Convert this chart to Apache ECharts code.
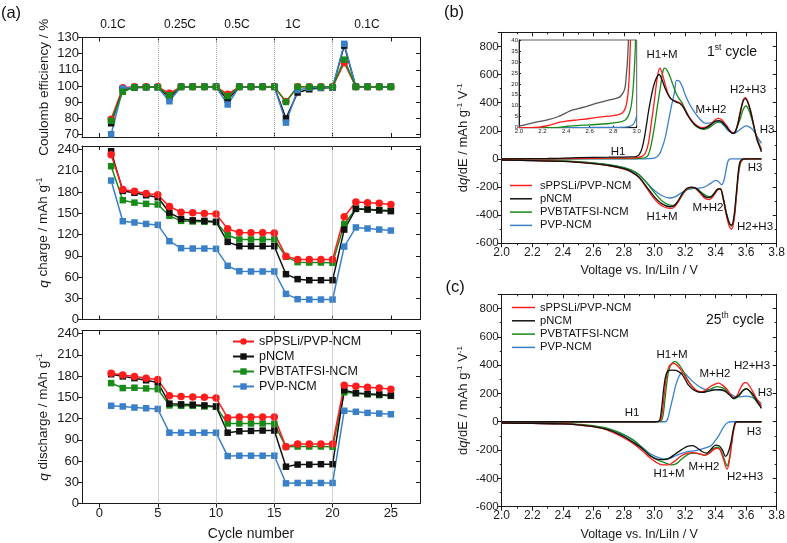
<!DOCTYPE html>
<html><head><meta charset="utf-8">
<script src="https://cdn.jsdelivr.net/npm/echarts@6/dist/echarts.min.js"></script>
<style>html,body{margin:0;padding:0;background:#fff}#c{width:787px;height:543px}</style>
</head><body><div id="c"></div>
<script>
// ---------------- DATA ----------------
const materials = ['sPPSLi/PVP-NCM', 'pNCM', 'PVBTATFSI-NCM', 'PVP-NCM'];
const cycles = [1,2,3,4,5,6,7,8,9,10,11,12,13,14,15,16,17,18,19,20,21,22,23,24,25];
const rateBoundaries = [5, 10, 15, 20];
const rateLabels = ['0.1C', '0.25C', '0.5C', '1C', '0.1C'];

const ceRed   = [79.5,99,99.5,99.5,99.5,95.5,99.5,99.5,99.5,99.5,95,99.5,99.5,99.5,99.5,90.5,99.5,99.5,99.5,99.5,114.5,99.5,99.5,99.5,99.5];
const ceBlack = [77,97.5,99,99.3,99.3,93,99.5,99.5,99.5,99.5,91.5,99.5,99.5,99.5,99.5,80,96,98,98.8,99,125,99.5,99.5,99.5,99.5];
const ceGreen = [78.5,96.5,99.2,99.3,99.3,94.3,99.5,99.5,99.5,99.5,93.8,99.5,99.5,99.5,99.5,90.2,99.5,99.5,99.5,99.5,116.3,99.5,99.5,99.5,99.5];
const ceBlue  = [70.2,98.5,99.2,99.3,99.3,90.6,99.5,99.5,99.5,99.5,88.6,99.5,99.5,99.5,99.5,77.4,97.5,99,99,99.2,126.1,99.5,99.5,99.5,99.5];

const chgRed   = [232.5,183.5,181,178,176,159.5,151.5,150.6,149.6,149,128,122.8,122.4,122.4,122,89.4,84.7,84.7,84.7,84.7,145,166,165,164,162.4];
const chgBlack = [237.6,181.6,179,175.5,172.7,151,142,140,139.3,138,109.6,103.5,103.5,103.5,103.5,64,57,55.5,55.5,55.5,127,156.2,155.3,154,153];
const chgGreen = [216.5,168.5,165,163.3,162.4,146.4,139.3,138.4,138,137.4,119,113,113,113,113,88.5,81,80.5,80.5,80,134.6,156.7,155.8,154.8,153.9];
const chgBlue  = [196.2,138.8,137,135,133.6,110.6,100.7,100.2,100.2,99.8,75.8,68.2,67.8,67.8,67.8,36.2,28.7,28.2,28.2,28.2,103,130,128.5,127,125.6];

const disRed   = [184,181.5,179.5,177,175,152,151,150.5,150,149,121,122,122,122,122,80,84,84,84,84,167,165.5,164,163,161.5];
const disBlack = [182.5,179.5,177,174,171,141,140,139.5,138.5,137,100,102,102.5,103,103,52,55,55,55.5,55.5,160,156,155,154,152.5];
const disGreen = [170,163,163.5,162.5,161.5,138.5,138,138,137,136.5,113,113,113,113,112.5,80,80.5,80.5,80.5,80,157,155.5,154,153,152];
const disBlue  = [138,137,135.5,134.5,133.5,100,100,100,100,100,67,67.5,67.5,67.5,67.5,28.5,29,29,29,29,131,129.5,128,127,126];

// dq/dE, 1st cycle (voltage, value)
const c1ChgRed = [[2.0,0],[2.3,0.5],[2.6,4],[2.8,6],[2.88,8],[2.92,20],[2.94,40],[2.96,110],[2.98,260],[3.0,420],[3.02,590],[3.035,645],[3.05,610],[3.07,530],[3.09,460],[3.11,425],[3.14,410],[3.17,395],[3.19,370],[3.22,310],[3.25,265],[3.28,235],[3.31,222],[3.34,228],[3.37,250],[3.40,280],[3.42,288],[3.44,278],[3.47,240],[3.50,195],[3.52,185],[3.54,230],[3.56,330],[3.58,415],[3.595,435],[3.61,410],[3.63,340],[3.65,240],[3.67,150],[3.69,90],[3.70,60]];
const c1ChgBlack = [[2.0,0],[2.3,3],[2.5,9],[2.7,12],[2.85,14],[2.88,17],[2.90,30],[2.92,80],[2.94,190],[2.96,330],[2.98,450],[3.0,540],[3.02,590],[3.03,600],[3.05,560],[3.07,500],[3.09,455],[3.11,425],[3.14,405],[3.17,390],[3.19,365],[3.22,305],[3.25,260],[3.28,230],[3.31,215],[3.34,222],[3.37,245],[3.40,268],[3.42,272],[3.44,265],[3.47,230],[3.50,190],[3.52,182],[3.54,225],[3.56,320],[3.58,410],[3.595,428],[3.61,405],[3.63,335],[3.65,235],[3.67,140],[3.69,80],[3.70,50]];
const c1ChgGreen = [[2.0,0],[2.4,1],[2.7,2],[2.85,2.5],[2.9,4],[2.94,10],[2.96,30],[2.98,110],[3.0,230],[3.02,380],[3.04,520],[3.055,620],[3.065,645],[3.08,635],[3.10,590],[3.12,530],[3.14,470],[3.16,430],[3.18,400],[3.20,355],[3.23,290],[3.26,245],[3.29,220],[3.32,210],[3.35,218],[3.38,240],[3.41,260],[3.43,262],[3.46,240],[3.49,200],[3.51,182],[3.53,200],[3.56,280],[3.58,350],[3.60,376],[3.62,340],[3.64,270],[3.66,190],[3.68,120],[3.70,70]];
const c1ChgBlue = [[2.0,0],[2.9,0.5],[2.96,2],[3.0,6],[3.03,30],[3.05,80],[3.07,150],[3.09,260],[3.11,370],[3.13,470],[3.145,558],[3.16,555],[3.18,520],[3.20,460],[3.22,410],[3.24,370],[3.27,320],[3.30,280],[3.33,255],[3.36,255],[3.39,262],[3.41,270],[3.43,262],[3.46,230],[3.49,195],[3.52,182],[3.55,200],[3.58,225],[3.60,235],[3.62,228],[3.64,212],[3.66,180],[3.68,145],[3.70,110]];
const c1DisRed = [[2.0,-8],[2.2,-12],[2.4,-18],[2.5,-24],[2.6,-33],[2.7,-48],[2.8,-72],[2.85,-95],[2.9,-135],[2.95,-210],[3.0,-285],[3.05,-335],[3.10,-352],[3.12,-350],[3.15,-315],[3.18,-258],[3.21,-215],[3.24,-202],[3.27,-212],[3.30,-245],[3.33,-280],[3.36,-290],[3.39,-258],[3.41,-225],[3.43,-215],[3.45,-290],[3.47,-400],[3.49,-480],[3.505,-500],[3.52,-440],[3.535,-280],[3.55,-100],[3.56,-30],[3.58,-3],[3.60,0],[3.70,0]];
const c1DisBlack = [[2.0,-8],[2.2,-12],[2.4,-18],[2.5,-24],[2.6,-33],[2.7,-47],[2.8,-70],[2.85,-92],[2.9,-130],[2.95,-200],[3.0,-270],[3.05,-320],[3.10,-340],[3.12,-338],[3.15,-305],[3.18,-250],[3.21,-210],[3.24,-200],[3.27,-208],[3.30,-238],[3.33,-268],[3.36,-276],[3.39,-248],[3.41,-218],[3.43,-212],[3.45,-280],[3.47,-385],[3.49,-455],[3.505,-470],[3.52,-410],[3.535,-250],[3.55,-80],[3.56,-20],[3.58,-2],[3.60,0],[3.70,0]];
const c1DisGreen = [[2.0,-6],[2.2,-10],[2.4,-15],[2.5,-20],[2.6,-28],[2.7,-40],[2.8,-62],[2.85,-80],[2.9,-112],[2.95,-170],[3.0,-240],[3.05,-300],[3.10,-328],[3.13,-330],[3.16,-295],[3.19,-245],[3.22,-212],[3.25,-205],[3.28,-215],[3.31,-240],[3.34,-262],[3.365,-268],[3.39,-245],[3.41,-218],[3.43,-212],[3.45,-275],[3.47,-380],[3.49,-460],[3.505,-480],[3.52,-430],[3.535,-280],[3.55,-110],[3.565,-25],[3.58,-3],[3.60,0],[3.70,0]];
const c1DisBlue = [[2.0,-8],[2.2,-12],[2.4,-16],[2.5,-22],[2.6,-30],[2.7,-42],[2.8,-62],[2.85,-82],[2.9,-115],[2.95,-170],[3.0,-225],[3.05,-262],[3.10,-278],[3.13,-272],[3.17,-245],[3.21,-220],[3.25,-212],[3.29,-208],[3.33,-198],[3.37,-172],[3.40,-153],[3.42,-162],[3.44,-184],[3.455,-150],[3.47,-70],[3.48,-20],[3.49,-3],[3.50,0],[3.70,0]];

// inset (1st cycle, low-voltage region)
const insetRed = [[2.0,0],[2.1,0],[2.17,0.2],[2.25,1],[2.3,1.8],[2.35,2.5],[2.4,3],[2.5,3.6],[2.6,4.2],[2.7,4.9],[2.8,5.5],[2.86,6.2],[2.89,7.5],[2.91,10],[2.925,15],[2.935,22],[2.942,32],[2.947,40]];
const insetBlack = [[2.0,0.7],[2.1,2],[2.25,3.7],[2.33,5],[2.4,6.8],[2.45,8],[2.56,9.5],[2.67,11.3],[2.78,12.8],[2.85,13.8],[2.88,15.5],[2.9,18],[2.91,23],[2.92,29],[2.93,40]];
const insetGreen = [[2.0,0],[2.3,0],[2.45,0.8],[2.6,1.3],[2.75,1.8],[2.85,2.5],[2.9,3.4],[2.93,5.5],[2.95,9],[2.965,15],[2.975,22],[2.985,32],[2.99,40]];
const insetBlue = [[2.0,0],[2.6,0.1],[2.9,0.3],[2.94,0.6],[2.97,1.5],[2.99,3.5],[3.0,5.5]];

// dq/dE, 25th cycle
const c25ChgRed = [[2.0,0],[2.5,0],[3.0,0],[3.035,5],[3.05,60],[3.065,200],[3.08,330],[3.095,390],[3.11,408],[3.125,412],[3.14,405],[3.16,385],[3.18,355],[3.20,320],[3.22,285],[3.25,245],[3.28,218],[3.31,212],[3.34,228],[3.37,252],[3.40,268],[3.42,272],[3.44,262],[3.47,235],[3.50,190],[3.52,168],[3.54,185],[3.56,230],[3.58,268],[3.60,276],[3.62,255],[3.64,220],[3.66,180],[3.68,145],[3.70,110]];
const c25ChgBlack = [[2.0,0],[2.5,0],[3.0,0],[3.03,5],[3.045,80],[3.06,230],[3.075,330],[3.09,360],[3.11,365],[3.14,362],[3.16,352],[3.18,335],[3.20,300],[3.22,262],[3.25,230],[3.28,212],[3.31,208],[3.34,212],[3.37,220],[3.40,225],[3.43,226],[3.46,218],[3.49,190],[3.52,165],[3.55,185],[3.58,220],[3.60,232],[3.62,220],[3.64,198],[3.66,165],[3.68,130],[3.70,95]];
const c25ChgGreen = [[2.0,0],[2.5,0],[3.0,0],[3.04,3],[3.055,40],[3.07,170],[3.085,310],[3.10,385],[3.12,418],[3.135,424],[3.15,415],[3.17,390],[3.19,355],[3.21,310],[3.23,275],[3.26,235],[3.29,210],[3.32,210],[3.35,222],[3.38,238],[3.41,248],[3.43,245],[3.46,232],[3.49,195],[3.52,162],[3.55,180],[3.58,222],[3.60,236],[3.62,220],[3.64,188],[3.66,155],[3.68,125],[3.70,100]];
const c25ChgBlue = [[2.0,0],[2.5,0],[3.0,0],[3.07,0],[3.085,15],[3.10,80],[3.12,170],[3.14,260],[3.16,320],[3.18,345],[3.20,340],[3.22,318],[3.25,285],[3.28,258],[3.31,238],[3.34,228],[3.37,227],[3.40,229],[3.43,225],[3.46,215],[3.50,195],[3.53,178],[3.56,176],[3.60,181],[3.63,175],[3.65,165],[3.68,148],[3.70,128]];
const c25DisRed = [[2.0,-10],[2.2,-12],[2.4,-15],[2.5,-22],[2.6,-35],[2.7,-62],[2.8,-115],[2.86,-153],[2.92,-205],[2.97,-255],[3.01,-285],[3.05,-305],[3.09,-305],[3.13,-280],[3.17,-245],[3.21,-224],[3.25,-218],[3.29,-225],[3.33,-238],[3.36,-222],[3.39,-195],[3.41,-188],[3.43,-200],[3.45,-260],[3.475,-334],[3.49,-280],[3.505,-160],[3.52,-50],[3.535,-3],[3.55,0],[3.70,0]];
const c25DisBlack = [[2.0,-10],[2.2,-12],[2.4,-15],[2.5,-22],[2.6,-35],[2.7,-58],[2.8,-105],[2.86,-145],[2.92,-190],[2.97,-240],[3.02,-265],[3.06,-268],[3.10,-255],[3.14,-225],[3.18,-195],[3.22,-172],[3.25,-168],[3.28,-185],[3.31,-210],[3.34,-222],[3.37,-195],[3.40,-165],[3.42,-168],[3.445,-200],[3.465,-245],[3.48,-225],[3.50,-150],[3.515,-60],[3.53,-5],[3.55,0],[3.70,0]];
const c25DisGreen = [[2.0,-10],[2.2,-10],[2.4,-12],[2.5,-18],[2.6,-28],[2.7,-48],[2.8,-90],[2.86,-130],[2.92,-185],[2.97,-235],[3.02,-270],[3.07,-290],[3.11,-305],[3.14,-298],[3.18,-262],[3.22,-230],[3.26,-222],[3.30,-228],[3.33,-236],[3.36,-215],[3.39,-188],[3.415,-180],[3.44,-215],[3.465,-290],[3.475,-312],[3.49,-260],[3.505,-150],[3.52,-50],[3.54,0],[3.70,0]];
const c25DisBlue = [[2.0,-12],[2.2,-12],[2.4,-15],[2.5,-20],[2.6,-32],[2.7,-55],[2.8,-95],[2.86,-128],[2.92,-180],[2.97,-224],[3.03,-255],[3.08,-264],[3.12,-250],[3.16,-230],[3.21,-212],[3.26,-205],[3.30,-196],[3.34,-182],[3.37,-170],[3.40,-130],[3.42,-100],[3.44,-60],[3.46,-25],[3.48,-5],[3.50,0],[3.70,0]];

// ---------------- STYLE ----------------
const FONT = 'Liberation Sans';
const AX = '#1a1a1a';
const COL = { red:'#ff1c1c', black:'#111111', green:'#188a18', blue:'#3a80c9' };

const chart = echarts.init(document.getElementById('c'), null, {renderer:'canvas'});

function vAxis(o) {
  return {
    type:'value', gridIndex:o.g, min:o.min, max:o.max,
    interval:o.interval, minInterval:o.fixI, maxInterval:o.fixI,
    position:o.pos,
    axisLine:{show:true, onZero:false, lineStyle:{color:AX, width:1}},
    axisTick:{show:true, inside:!!o.inside, length:o.tl || 4, lineStyle:{color:AX, width:1}},
    minorTick:{show:!!o.minor, splitNumber:o.minor || 2, length:2, lineStyle:{color:AX, width:1}},
    axisLabel:{show:!!o.label, fontSize:o.fs || 12, color:AX, fontFamily:FONT, margin:o.margin || 3,
      showMinLabel:o.showMin, showMaxLabel:o.showMax, formatter:o.fmt},
    splitLine:{show:false},
    name:o.name || '', nameLocation:'middle', nameGap:o.gap || 20,
    nameTextStyle:{fontFamily:FONT, color:AX, fontSize:o.nfs || 13, rich:o.rich}
  };
}
function richFor(fs) {
  return {
    n:{fontSize:fs, fontFamily:FONT, color:AX, lineHeight:fs + 3},
    i:{fontSize:fs, fontFamily:FONT, color:AX, fontStyle:'italic', lineHeight:fs + 3},
    s:{fontSize:fs * 0.62, fontFamily:FONT, color:AX, verticalAlign:'top', lineHeight:fs * 0.62}
  };
}

const grids = [
  {left:82, top:37.5, width:338, height:99.5},
  {left:82, top:146, width:338, height:173.5},
  {left:82, top:330.7, width:338, height:172.8},
  {left:501.7, top:32.3, width:275, height:211},
  {left:519, top:40, width:117.7, height:87.7, show:true, borderColor:'#333', borderWidth:0.8, backgroundColor:'#fff'},
  {left:501.7, top:294.3, width:275, height:212.4}
].map(g => Object.assign({containLabel:false, outerBoundsMode:'none'}, g));

const cycX = {min:-1.5, max:27.5, fixI:5, showMin:false, showMax:false};
const voltX = {min:2.0, max:3.8, interval:0.2, minor:2, fmt:v => v.toFixed(1)};
const dqY = {min:-600, max:900, interval:200, minor:2, showMax:false};

const xAxes = [
  vAxis(Object.assign({g:0, pos:'bottom', inside:true}, cycX)),
  vAxis(Object.assign({g:0, pos:'top', inside:true}, cycX)),
  vAxis(Object.assign({g:1, pos:'bottom', inside:true}, cycX)),
  vAxis(Object.assign({g:1, pos:'top', inside:true}, cycX)),
  vAxis(Object.assign({g:2, pos:'bottom', label:true, fs:13, margin:3, name:'Cycle number', nfs:14, gap:24}, cycX)),
  vAxis(Object.assign({g:2, pos:'top', inside:true}, cycX)),
  vAxis(Object.assign({g:3, pos:'bottom', label:true, fs:12, name:'Voltage vs. In/LiIn / V', nfs:12.5, gap:21}, voltX)),
  vAxis(Object.assign({g:3, pos:'top', inside:true}, voltX)),
  vAxis({g:4, pos:'bottom', min:2.0, max:3.0, interval:0.2, label:true, fs:6, margin:1, tl:2, inside:true, fmt:v => v.toFixed(1)}),
  vAxis(Object.assign({g:5, pos:'bottom', label:true, fs:12, name:'Voltage vs. In/LiIn / V', nfs:12.5, gap:21}, voltX)),
  vAxis(Object.assign({g:5, pos:'top', inside:true}, voltX))
];
const richA = richFor(13.5), richB = richFor(13);
const yAxes = [
  vAxis({g:0, pos:'left', min:68.5, max:130, fixI:10, showMin:false, label:true, fs:13, name:'{n|Coulomb efficiency / %}', gap:29, rich:richA}),
  vAxis({g:0, pos:'right', min:68.5, max:130, fixI:10, inside:true}),
  vAxis({g:1, pos:'left', min:0, max:245, interval:30, showMax:false, label:true, fs:13, name:'{i|q}{n| charge / mAh g}{s|-1}', gap:30, rich:richA}),
  vAxis({g:1, pos:'right', min:0, max:245, interval:30, inside:true}),
  vAxis({g:2, pos:'left', min:0, max:244, interval:30, showMax:false, label:true, fs:13, name:'{i|q}{n| discharge / mAh g}{s|-1}', gap:30, rich:richA}),
  vAxis({g:2, pos:'right', min:0, max:244, interval:30, inside:true}),
  vAxis(Object.assign({g:3, pos:'left', label:true, fs:11.5, name:'{n|d}{i|q}{n|/dE / mAh g}{s|-1}{n| V}{s|-1}', gap:30, rich:richB}, dqY)),
  vAxis(Object.assign({g:3, pos:'right', inside:true}, dqY)),
  vAxis({g:4, pos:'left', min:0, max:40, interval:5, label:true, fs:6, margin:1, tl:2, inside:true}),
  vAxis(Object.assign({g:5, pos:'left', label:true, fs:11.5, name:'{n|d}{i|q}{n|/dE / mAh g}{s|-1}{n| V}{s|-1}', gap:30, rich:richB}, dqY)),
  vAxis(Object.assign({g:5, pos:'right', inside:true}, dqY))
];

const boundaryLine = {
  silent:true, symbol:['none','none'], animation:false, label:{show:false},
  lineStyle:{color:'#a8a8a8', type:'dotted', width:1},
  data: rateBoundaries.map(v => ({xAxis:v}))
};

function cycSeries(name, axisIdx, values, color, symbol, withMark) {
  const s = {
    type:'line', name, xAxisIndex:axisIdx, yAxisIndex:axisIdx,
    data: cycles.map((c, i) => [c, values[i]]),
    symbol, symbolSize: symbol === 'circle' ? 7.5 : 6.5, showSymbol:true,
    lineStyle:{color, width:1.5}, itemStyle:{color}, animation:false
  };
  if (withMark) s.markLine = boundaryLine;
  return s;
}
function dqSeries(name, xi, yi, data, color) {
  return {type:'line', name, xAxisIndex:xi, yAxisIndex:yi, data, showSymbol:false, symbol:'none',
    smooth:0.35, lineStyle:{color, width:1.3}, itemStyle:{color}, animation:false};
}

const [mR, mK, mG, mB] = materials;
const series = [
  // CE (grid 0)
  cycSeries(mR, 0, ceRed, COL.red, 'circle', true),
  cycSeries(mK, 0, ceBlack, COL.black, 'rect'),
  cycSeries(mB, 0, ceBlue, COL.blue, 'rect'),
  cycSeries(mG, 0, ceGreen, COL.green, 'rect'),
  // charge (grid 1)
  cycSeries(mB, 2, chgBlue, COL.blue, 'rect', true),
  cycSeries(mG, 2, chgGreen, COL.green, 'rect'),
  cycSeries(mK, 2, chgBlack, COL.black, 'rect'),
  cycSeries(mR, 2, chgRed, COL.red, 'circle'),
  // discharge (grid 2)
  cycSeries(mB, 4, disBlue, COL.blue, 'rect', true),
  cycSeries(mG, 4, disGreen, COL.green, 'rect'),
  cycSeries(mK, 4, disBlack, COL.black, 'rect'),
  cycSeries(mR, 4, disRed, COL.red, 'circle'),
  // panel b
  dqSeries(mB, 6, 6, c1ChgBlue, COL.blue), dqSeries(mB, 6, 6, c1DisBlue, COL.blue),
  dqSeries(mG, 6, 6, c1ChgGreen, COL.green), dqSeries(mG, 6, 6, c1DisGreen, COL.green),
  dqSeries(mR, 6, 6, c1ChgRed, COL.red), dqSeries(mR, 6, 6, c1DisRed, COL.red),
  dqSeries(mK, 6, 6, c1ChgBlack, COL.black), dqSeries(mK, 6, 6, c1DisBlack, COL.black),
  // inset
  dqSeries(mB, 8, 8, insetBlue, COL.blue), dqSeries(mG, 8, 8, insetGreen, COL.green),
  dqSeries(mR, 8, 8, insetRed, COL.red), dqSeries(mK, 8, 8, insetBlack, '#555'),
  // panel c
  dqSeries(mB, 9, 9, c25ChgBlue, COL.blue), dqSeries(mB, 9, 9, c25DisBlue, COL.blue),
  dqSeries(mG, 9, 9, c25ChgGreen, COL.green), dqSeries(mG, 9, 9, c25DisGreen, COL.green),
  dqSeries(mR, 9, 9, c25ChgRed, COL.red), dqSeries(mR, 9, 9, c25DisRed, COL.red),
  dqSeries(mK, 9, 9, c25ChgBlack, COL.black), dqSeries(mK, 9, 9, c25DisBlack, COL.black)
];
series.forEach((s, i) => { s.z = 2; });

const legText = fs => ({fontSize:fs, color:'#111', fontFamily:FONT});
const legends = [
  {data:materials, left:232, top:335, orient:'vertical', itemWidth:21, itemHeight:8, itemGap:2, padding:0,
   selectedMode:false, textStyle:legText(12.5)},
  {data:materials, left:510, top:180, orient:'vertical', icon:'rect', itemWidth:22, itemHeight:1.5, itemGap:2.3, padding:0,
   selectedMode:false, textStyle:Object.assign(legText(11.2), {padding:[0,0,0,3]})},
  {data:materials, left:512, top:302, orient:'vertical', icon:'rect', itemWidth:23, itemHeight:1.5, itemGap:2.3, padding:0,
   selectedMode:false, textStyle:legText(11.2)}
];

function txt(text, x, y, fs, extra) {
  return Object.assign({type:'text', x, y, silent:true, z:100,
    style:{text, fill:'#111', font:fs + 'px ' + FONT, align:'center', verticalAlign:'middle'}}, extra || {});
}
const supRich = fs => ({
  n:{fontSize:fs, fontFamily:FONT, fill:'#111', lineHeight:fs + 3},
  s:{fontSize:fs * 0.6, fontFamily:FONT, fill:'#111', verticalAlign:'top', lineHeight:fs * 0.6}
});
const rateX = [113, 180, 237, 293, 367];
const graphics = [
  txt('(a)', 11, 13.5, 16.5),
  txt('(b)', 454, 12, 16.5),
  txt('(c)', 455, 287, 16.5),
  ...rateLabels.map((t, i) => txt(t, rateX[i], 25, 12)),
  // panel b annotations
  txt('H1+M', 662, 55, 11.5), txt('H2+H3', 748, 90, 11.5), txt('M+H2', 711, 110, 11.5),
  txt('H3', 767, 130, 11.5), txt('H1', 618, 152, 11.5), txt('H3', 755, 168, 11.5),
  txt('M+H2', 708, 208, 11.5), txt('H1+M', 662, 217, 11.5), txt('H2+H3', 755, 227, 11.5),
  {type:'text', x:707, y:52, silent:true, z:100,
   style:{text:'{n|1}{s|st}{n| cycle}', rich:supRich(14), fill:'#111', font:'14px ' + FONT, align:'left', verticalAlign:'middle'}},
  // panel c annotations
  txt('H1+M', 672, 355, 11.5), txt('M+H2', 715, 374, 11.5), txt('H2+H3', 752, 366, 11.5),
  txt('H3', 765, 393, 11.5), txt('H1', 632, 413, 11.5), txt('H3', 754, 432, 11.5),
  txt('H1+M', 669, 474, 11.5), txt('M+H2', 704, 467, 11.5), txt('H2+H3', 745, 477, 11.5),
  {type:'text', x:706, y:320, silent:true, z:100,
   style:{text:'{n|25}{s|th}{n| cycle}', rich:supRich(14), fill:'#111', font:'14px ' + FONT, align:'left', verticalAlign:'middle'}}
];

chart.setOption({
  animation:false,
  backgroundColor:'#fff',
  grid:grids, xAxis:xAxes, yAxis:yAxes, series, legend:legends, graphic:graphics
});
</script></body></html>
